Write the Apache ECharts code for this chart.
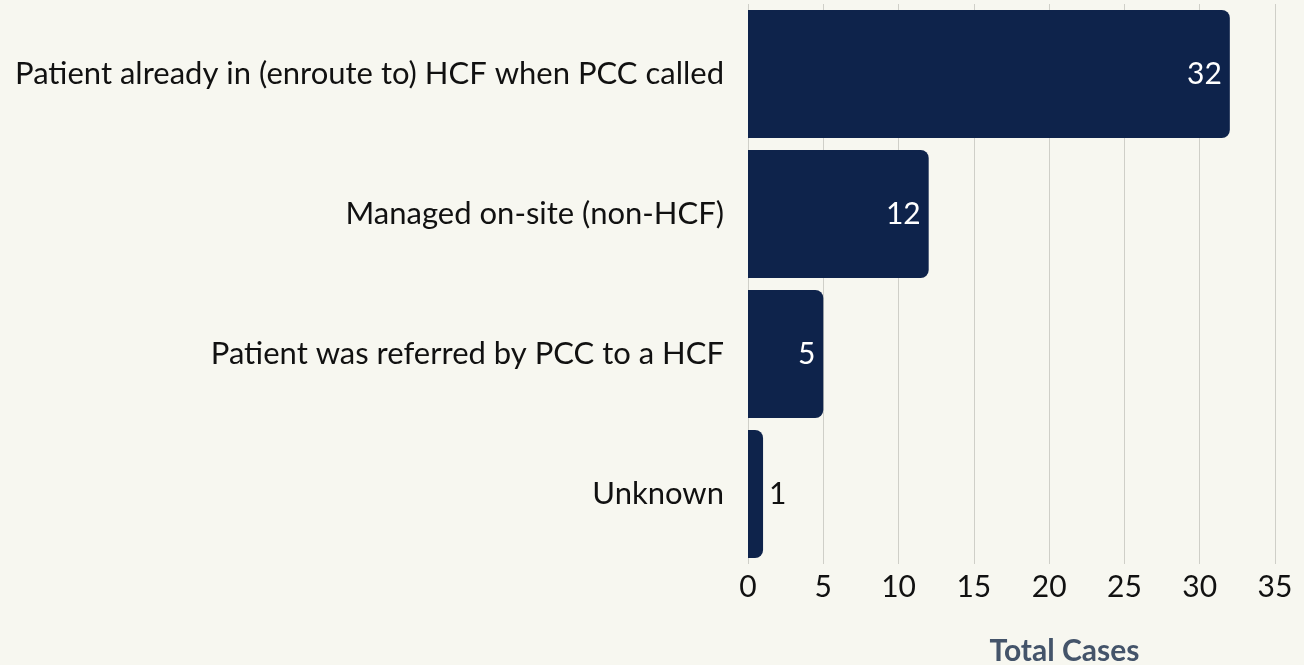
<!DOCTYPE html>
<html>
<head>
<meta charset="utf-8">
<script src="https://cdn.jsdelivr.net/npm/echarts@6/dist/echarts.min.js"></script>
<style>
  html, body { margin: 0; padding: 0; background: #f7f7f0; }
  #main { width: 1304px; height: 665px; }
</style>
</head>
<body>
<div id="main"></div>
<script>
  // categories, top to bottom
  var categories = [
    'Patient already in (enroute to) HCF when PCC called',
    'Managed on-site (non-HCF)',
    'Patient was referred by PCC to a HCF',
    'Unknown'
  ];
  var totalCases = [32, 12, 5, 1];
  var xTicks = [0, 5, 10, 15, 20, 25, 30, 35];

  var font = 'Lato, "Noto Sans", sans-serif';

  // short bars get their label outside
  var barData = totalCases.map(function (v) {
    var inside = v >= 3;
    return {
      value: v,
      label: {
        position: inside ? 'insideRight' : 'right',
        color: inside ? '#ffffff' : '#111111',
        distance: inside ? 8 : 6
      }
    };
  });

  var myChart = echarts.init(document.getElementById('main'));
  myChart.setOption({
    backgroundColor: '#f7f7f0',
    animation: false,
    grid: { left: 748, right: 29, top: 4, bottom: 101, outerBoundsMode: 'none', containLabel: false },
    xAxis: {
      type: 'value',
      min: xTicks[0],
      max: xTicks[xTicks.length - 1],
      interval: 5,
      name: 'Total Cases',
      nameLocation: 'middle',
      nameGap: 72,
      nameTextStyle: { fontFamily: font, fontSize: 30, fontWeight: 'bold', color: '#44546a', padding: [0, 0, 0, 106] },
      axisLine: { show: false },
      axisTick: { show: false },
      axisLabel: { fontFamily: font, fontSize: 30, color: '#111111', margin: 8 },
      splitLine: { show: true, lineStyle: { color: '#cfcfc8', width: 1 } }
    },
    yAxis: {
      type: 'category',
      inverse: true,
      data: categories,
      axisLine: { show: false },
      axisTick: { show: false },
      axisLabel: { fontFamily: font, fontSize: 31, color: '#111111', margin: 24 }
    },
    series: [{
      type: 'bar',
      data: barData,
      barCategoryGap: '8.6%',
      itemStyle: { color: '#0e234b', borderRadius: [0, 8, 8, 0] },
      label: { show: true, fontFamily: font, fontSize: 30 }
    }]
  });
</script>
</body>
</html>
